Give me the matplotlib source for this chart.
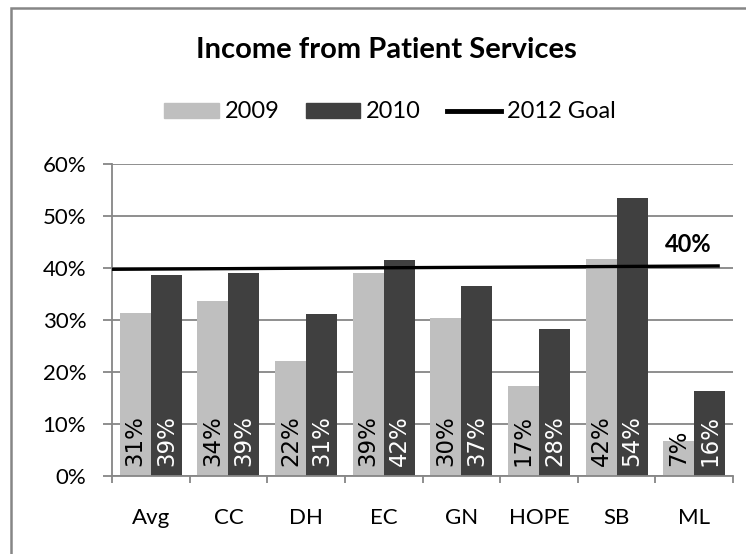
import numpy as np
import matplotlib
matplotlib.use("Agg")
import matplotlib.pyplot as plt
from matplotlib.patches import Rectangle
from matplotlib.lines import Line2D
from matplotlib.ticker import FuncFormatter, FixedLocator

# data
categories = ["Avg", "CC", "DH", "EC", "GN", "HOPE", "SB", "ML"]
vals_2009 = [31.3, 33.6, 22.1, 39.0, 30.3, 17.4, 41.7, 6.7]
vals_2010 = [38.6, 39.0, 31.2, 41.5, 36.6, 28.2, 53.5, 16.3]
labels_2009 = ["31%", "34%", "22%", "39%", "30%", "17%", "42%", "7%"]
labels_2010 = ["39%", "39%", "31%", "42%", "37%", "28%", "54%", "16%"]
goal_x = [-0.5, 7.33]
goal_y = [39.75, 40.4]
goal_label = "40%"

light = "#BFBFBF"
dark = "#404040"
grid_col = "#868686"

plt.rcParams["font.family"] = ["Lato", "DejaVu Sans"]

fig = plt.figure(figsize=(7.46, 5.54), dpi=100)
ax = fig.add_axes([112 / 746, 1 - 476 / 554, (733 - 112) / 746, (476 - 164) / 554])

x = np.arange(len(categories))
w = 0.4
ax.bar(x - w / 2, vals_2009, w, color=light, zorder=2)
ax.bar(x + w / 2, vals_2010, w, color=dark, zorder=2)
ax.plot(goal_x, goal_y, color="black", lw=2.4, zorder=3, solid_capstyle="butt")

# rotated value labels inside bars
for xi, lab in zip(x, labels_2009):
    ax.text(xi - w / 2, 1.9, lab, rotation=90, ha="center", va="bottom",
            fontsize=16.5, color="black", family="DejaVu Sans", zorder=4)
for xi, lab in zip(x, labels_2010):
    ax.text(xi + w / 2, 1.9, lab, rotation=90, ha="center", va="bottom",
            fontsize=16.5, color="white", family="DejaVu Sans", zorder=4)

ax.text(6.92, 44.6, goal_label, ha="center", va="center", fontsize=17,
        fontweight="bold", zorder=4)

ax.set_xlim(-0.5, len(categories) - 0.5)
ax.set_ylim(0, 60)
ax.set_yticks(range(0, 61, 10))
ax.yaxis.set_major_formatter(FuncFormatter(lambda v, p: f"{int(v)}%"))
ax.grid(axis="y", color=grid_col, lw=1.3, zorder=0)
ax.set_axisbelow(True)

ax.set_xticks(x)
ax.set_xticklabels(categories)
ax.xaxis.set_minor_locator(FixedLocator(np.arange(-0.5, len(categories), 1.0)))
ax.tick_params(axis="x", which="major", length=0, pad=23, labelsize=16)
ax.tick_params(axis="x", which="minor", length=5, width=1.3, color=grid_col, direction="out")
ax.tick_params(axis="y", length=6.5, width=1.3, color=grid_col, pad=12, labelsize=16)

for s in ["top", "right"]:
    ax.spines[s].set_visible(False)
for s in ["left", "bottom"]:
    ax.spines[s].set_color(grid_col)
    ax.spines[s].set_linewidth(1.3)

fig.suptitle("Income from Patient Services", x=386 / 746, y=1 - 50 / 554,
             va="center", fontsize=21, fontweight="bold")

handles = [Rectangle((0, 0), 1, 1, color=light),
           Rectangle((0, 0), 1, 1, color=dark),
           Line2D([0], [0], color="black", lw=3.5)]
fig.legend(handles, ["2009", "2010", "2012 Goal"], loc="center",
           bbox_to_anchor=(390 / 746, 1 - 112 / 554), ncol=3, frameon=False,
           fontsize=17, handlelength=2.3, handleheight=0.6, handletextpad=0.25,
           columnspacing=1.1, borderpad=0)

# outer chart frame
fig.patches.append(Rectangle((11 / 746, -0.1), 1.0, 1 - 8 / 554 + 0.1,
                             transform=fig.transFigure, fill=False,
                             edgecolor=grid_col, lw=1.8))

fig.savefig("out.png", dpi=100)
